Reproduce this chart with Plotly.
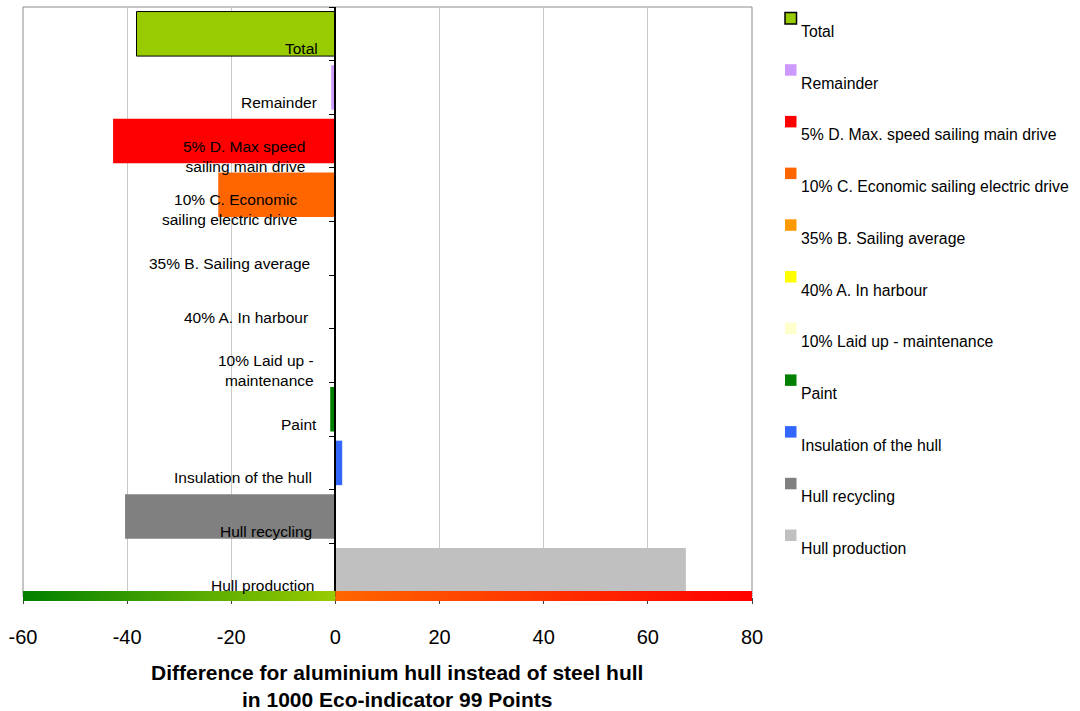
import base64
import plotly.graph_objects as go

# Series (one bar each), top to bottom
series = [
    "Total",
    "Remainder",
    "5% D. Max. speed sailing main drive",
    "10% C. Economic sailing electric drive",
    "35% B. Sailing average",
    "40% A. In harbour",
    "10% Laid up - maintenance",
    "Paint",
    "Insulation of the hull",
    "Hull recycling",
    "Hull production",
]
bar_labels = [
    "Total",
    "Remainder",
    "5% D. Max speed<br>sailing main drive",
    "10% C. Economic<br>sailing electric drive",
    "35% B. Sailing average",
    "40% A. In harbour",
    "10% Laid up -<br>maintenance",
    "Paint",
    "Insulation of the hull",
    "Hull recycling",
    "Hull production",
]
values = [-38.2, -0.8, -42.7, -22.5, 0.0, 0.0, 0.0, -1.0, 1.3, -40.4, 67.3]
colors = [
    "#99CC00", "#CC99FF", "#FF0000", "#FF6600", "#FF9900", "#FFFF00",
    "#FFFFCC", "#008000", "#3366FF", "#808080", "#C0C0C0",
]
x_ticks = [-60, -40, -20, 0, 20, 40, 60, 80]
x_title = "Difference for aluminium hull instead of steel hull<br>in 1000 Eco-indicator 99 Points"

# Page geometry (pixels)
W, H = 1080, 711
PL, PR, PT, PB = 23, 752, 7, 597
XMIN, XMAX = x_ticks[0], x_ticks[-1]
FONT = "Liberation Sans, Arial, sans-serif"


def px_x(p):
    return (p - PL) / (PR - PL)


def px_y(p):
    return (PB - p) / (PB - PT)


fig = go.Figure()
for name, val, col in zip(series, values, colors):
    is_total = name == "Total"
    fig.add_trace(go.Bar(
        x=[val], y=[name], orientation="h", width=0.83,
        marker=dict(color=col,
                    line=dict(color="#000000" if is_total else col,
                              width=1 if is_total else 0)),
        showlegend=False, hoverinfo="x+y",
    ))

shapes = []
# plot frame
shapes.append(dict(type="rect", xref="paper", yref="paper", x0=0, x1=1, y0=0, y1=1,
                   line=dict(color="#8a8a8a", width=1), layer="below"))

# coloured band along the value axis: green for savings, orange-red for extra impact
band_w = PR - PL
zero_frac = (0 - XMIN) / (XMAX - XMIN)
zx = band_w * zero_frac
svg = (
    f'<svg xmlns="http://www.w3.org/2000/svg" width="{band_w}" height="10" '
    f'viewBox="0 0 {band_w} 10" preserveAspectRatio="none">'
    '<defs>'
    '<linearGradient id="g" x1="0" x2="1" y1="0" y2="0">'
    '<stop offset="0" stop-color="#008000"/><stop offset="1" stop-color="#99CC00"/>'
    '</linearGradient>'
    '<linearGradient id="r" x1="0" x2="1" y1="0" y2="0">'
    '<stop offset="0" stop-color="#FF6600"/><stop offset="1" stop-color="#FF0000"/>'
    '</linearGradient>'
    '</defs>'
    f'<rect x="0" y="0" width="{zx:.2f}" height="10" fill="url(#g)"/>'
    f'<rect x="{zx:.2f}" y="0" width="{band_w - zx:.2f}" height="10" fill="url(#r)"/>'
    '</svg>'
)
band_src = "data:image/svg+xml;base64," + base64.b64encode(svg.encode()).decode()
images = [dict(
    source=band_src, xref="paper", yref="paper",
    x=0, y=px_y(591), sizex=1, sizey=px_y(591) - px_y(601),
    xanchor="left", yanchor="top", sizing="stretch", layer="above",
)]

annotations = []
# labels drawn beside the zero line
label_shift = [15, 16, 28, 36, 23, 25, 19, 16, 21, 21, 19]
for name, lab, sh in zip(series, bar_labels, label_shift):
    annotations.append(dict(
        x=0, y=name, xref="x", yref="y", xanchor="right", yanchor="middle",
        xshift=-sh, yshift=-15, text=lab, showarrow=False, align="right",
        font=dict(family=FONT, size=15.5, color="#000000"),
    ))

# legend: swatch with its label just below-right
for i, (name, col) in enumerate(zip(series, colors)):
    top = 12.5 + i * 51.7
    shapes.append(dict(
        type="rect", xref="paper", yref="paper",
        x0=px_x(785), x1=px_x(796.5), y0=px_y(top + 11.5), y1=px_y(top),
        fillcolor=col, line=dict(color="#000000" if name == "Total" else col,
                                 width=1.5 if name == "Total" else 0),
    ))
    annotations.append(dict(
        x=px_x(798.5), y=px_y(top + 19), xref="paper", yref="paper",
        xanchor="left", yanchor="middle", text=name, showarrow=False,
        font=dict(family=FONT, size=15.8, color="#000000"),
    ))

# value axis title
annotations.append(dict(
    x=px_x(397), y=px_y(686), xref="paper", yref="paper",
    xanchor="center", yanchor="middle", text="<b>" + x_title + "</b>",
    showarrow=False, align="center",
    font=dict(family=FONT, size=21, color="#000000"),
))

fig.update_layout(
    width=W, height=H,
    margin=dict(l=PL, r=W - PR, t=PT, b=H - PB, pad=0),
    paper_bgcolor="#FFFFFF", plot_bgcolor="#FFFFFF",
    barmode="overlay", bargap=0.17,
    showlegend=False,
    shapes=shapes, annotations=annotations, images=images,
    xaxis=dict(
        range=[XMIN, XMAX], tickvals=x_ticks, ticktext=[str(t) for t in x_ticks],
        showgrid=True, gridcolor="#c8c8c8", gridwidth=1, zeroline=False,
        showline=False, ticks="outside", ticklen=6, tickcolor="#404040",
        tickfont=dict(family=FONT, size=20, color="#000000"),
        ticklabelstandoff=16, fixedrange=True,
    ),
    yaxis=dict(
        type="category", categoryorder="array", categoryarray=series,
        autorange="reversed", anchor="free", position=zero_frac,
        showline=True, linecolor="#000000", linewidth=1.5,
        ticks="outside", tickson="boundaries", ticklen=6, tickcolor="#000000",
        showticklabels=False, showgrid=False, zeroline=False, fixedrange=True,
    ),
)

fig.write_html("out.html")
